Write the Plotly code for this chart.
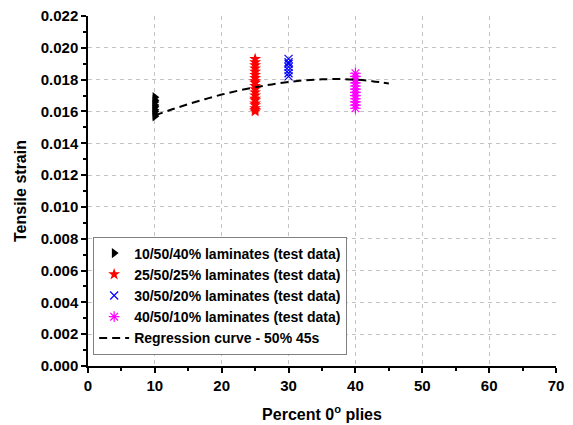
import plotly.graph_objects as go

# Data
x_10 = [10] * 9
y_10 = [0.0157, 0.0158, 0.0160, 0.0161, 0.0163, 0.0164, 0.0166, 0.0167, 0.0169]

x_25 = [25] * 20
y_25 = [0.0160, 0.0161, 0.0162, 0.0164, 0.0165, 0.0167, 0.0168, 0.0170, 0.0172, 0.0174,
        0.0176, 0.0178, 0.0179, 0.0181, 0.0183, 0.0185, 0.0187, 0.0189, 0.0191, 0.0193]

x_30 = [30] * 7
y_30 = [0.0182, 0.0184, 0.0186, 0.0188, 0.0190, 0.0191, 0.0193]

x_40 = [40] * 12
y_40 = [0.0162, 0.0164, 0.0166, 0.0168, 0.0170, 0.0172, 0.0174, 0.0176, 0.0178, 0.0180, 0.0182, 0.0184]

reg_x = [10, 12.5, 15, 17.5, 20, 22.5, 25, 27.5, 30, 32.5, 35, 37.5, 40, 42.5, 45]
reg_y = [0.01575, 0.01612, 0.01646, 0.01677, 0.01706, 0.01731, 0.01752, 0.01770, 0.01785,
         0.01796, 0.01802, 0.01804, 0.01800, 0.01790, 0.01776]

names = ["10/50/40% laminates (test data)", "25/50/25% laminates (test data)",
         "30/50/20% laminates (test data)", "40/50/10% laminates (test data)",
         "Regression curve - 50% 45s"]

FONT = "Liberation Sans"

fig = go.Figure()
fig.add_trace(go.Scatter(x=x_10, y=y_10, mode="markers", name=names[0],
                         marker=dict(symbol="triangle-right", color="black", size=9)))
fig.add_trace(go.Scatter(x=x_25, y=y_25, mode="markers", name=names[1],
                         marker=dict(symbol="star", color="red", size=9)))
fig.add_trace(go.Scatter(x=x_30, y=y_30, mode="markers", name=names[2],
                         marker=dict(symbol="x-thin-open", color="blue", size=8,
                                     line=dict(color="blue", width=1.2))))
fig.add_trace(go.Scatter(x=x_40, y=y_40, mode="markers", name=names[3],
                         marker=dict(symbol="asterisk-open", color="magenta", size=9,
                                     line=dict(color="magenta", width=1.2))))
fig.add_trace(go.Scatter(x=reg_x, y=reg_y, mode="lines", name=names[4],
                         line=dict(color="black", width=2, dash="8px,5px", shape="spline")))

axis_common = dict(
    showline=True, linecolor="black", linewidth=1.5, mirror=False,
    ticks="outside", ticklen=5, tickwidth=1.5, tickcolor="black",
    showgrid=True, gridcolor="#c4c4c4", griddash="4px,4px", gridwidth=1,
    zeroline=False, automargin=False,
    tickfont=dict(family=FONT, size=15, color="black", weight="bold"),
)

fig.update_xaxes(
    range=[0, 70], dtick=10, tick0=0,
    minor=dict(dtick=5, ticks="outside", ticklen=3, tickcolor="black", tickwidth=1.5, showgrid=False),
    title=dict(text="Percent 0<sup>o</sup> plies", font=dict(family=FONT, size=16, color="black", weight="bold"),
               standoff=16),
    **axis_common,
)
fig.update_yaxes(
    range=[0, 0.022], dtick=0.002, tick0=0, tickformat=".3f",
    minor=dict(dtick=0.001, ticks="outside", ticklen=3, tickcolor="black", tickwidth=1.5, showgrid=False),
    title=dict(text="Tensile strain", font=dict(family=FONT, size=16, color="black", weight="bold"),
               standoff=10),
    **axis_common,
)

fig.update_layout(
    width=573, height=425,
    margin=dict(l=88, r=17, t=16, b=59),
    plot_bgcolor="white", paper_bgcolor="white",
    font=dict(family=FONT, color="black"),
    legend=dict(x=0.011, y=0.37, xanchor="left", yanchor="top",
                bgcolor="white", bordercolor="#808080", borderwidth=1,
                font=dict(family=FONT, size=14, color="black", weight="bold"),
                tracegroupgap=0, itemwidth=30),
    showlegend=True,
)

fig.write_html("out.html")
